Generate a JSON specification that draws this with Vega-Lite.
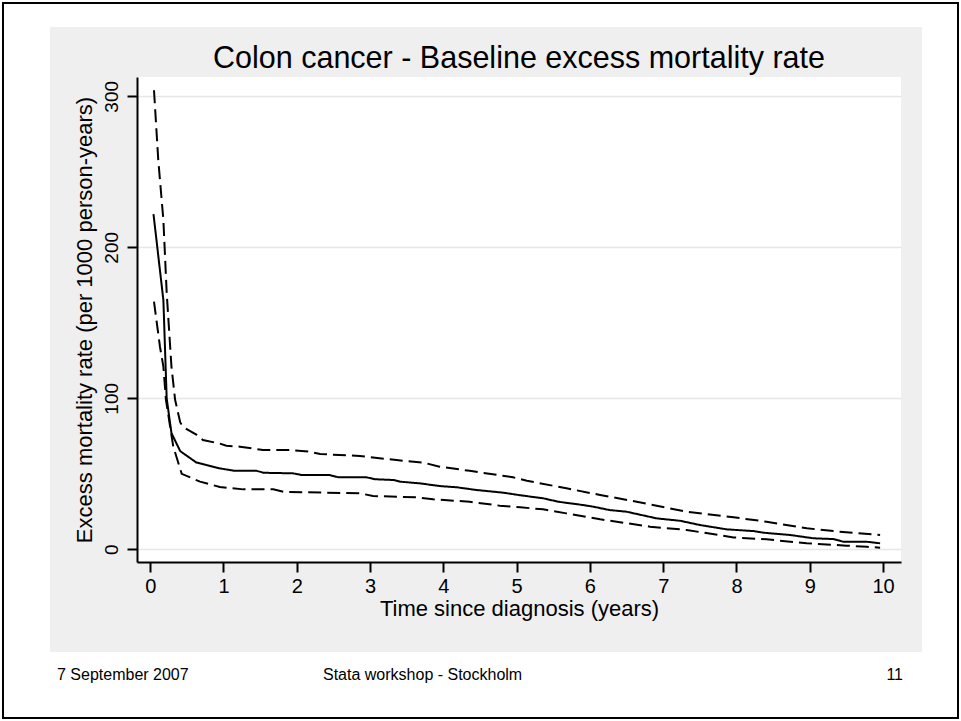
{
  "$schema": "https://vega.github.io/schema/vega-lite/v6.json",
  "width": 764,
  "height": 485,
  "autosize": {"type": "none"},
  "padding": {"left": 137, "top": 77, "right": 60, "bottom": 159},
  "background": "#EFEFEF",
  "config": {
    "view": {"fill": "white", "stroke": null},
    "font": "Liberation Sans",
    "axis": {
      "domainColor": "black",
      "domainWidth": 2,
      "tickColor": "black",
      "tickWidth": 2,
      "tickSize": 10,
      "labelColor": "black",
      "labelFont": "Liberation Sans",
      "titleFont": "Liberation Sans",
      "titleColor": "black",
      "titleFontWeight": "normal",
      "gridColor": "#E6E6E6",
      "gridWidth": 1.5
    }
  },
  "title": {
    "text": "Colon cancer - Baseline excess mortality rate",
    "font": "Liberation Sans",
    "fontSize": 30.5,
    "fontWeight": "normal",
    "color": "black",
    "anchor": "middle",
    "frame": "group",
    "baseline": "bottom",
    "offset": -177
  },
  "layer": [
    {
      "data": {"values": [{}]},
      "mark": {"type": "rect", "filled": false, "stroke": "white", "strokeWidth": 100, "strokeJoin": "miter"},
      "encoding": {"x": {"value": -137}, "x2": {"value": 835}, "y": {"value": -100}, "y2": {"value": 625}}
    },
    {
      "data": {"values": [{}]},
      "mark": {"type": "rect", "filled": false, "stroke": "black", "strokeWidth": 2},
      "encoding": {"x": {"value": -134}, "x2": {"value": 821}, "y": {"value": -74}, "y2": {"value": 641}}
    },
    {
      "data": {"values": [{}]},
      "mark": {"type": "text", "text": "7 September 2007", "fontSize": 16, "align": "left", "baseline": "alphabetic", "color": "black"},
      "encoding": {"x": {"value": -80}, "y": {"value": 603}}
    },
    {
      "data": {"values": [{}]},
      "mark": {"type": "text", "text": "Stata workshop - Stockholm", "fontSize": 16, "align": "left", "baseline": "alphabetic", "color": "black"},
      "encoding": {"x": {"value": 186}, "y": {"value": 603}}
    },
    {
      "data": {"values": [{}]},
      "mark": {"type": "text", "text": "11", "fontSize": 16, "align": "right", "baseline": "alphabetic", "color": "black"},
      "encoding": {"x": {"value": 766}, "y": {"value": 603}}
    },
    {
      "data": {
        "values": [
          {"s": "est", "t": 0.045, "v": 222},
          {"s": "est", "t": 0.18, "v": 165},
          {"s": "est", "t": 0.225, "v": 100},
          {"s": "est", "t": 0.29, "v": 77},
          {"s": "est", "t": 0.41, "v": 65},
          {"s": "est", "t": 0.63, "v": 57.5},
          {"s": "est", "t": 0.95, "v": 53.6},
          {"s": "est", "t": 1.15, "v": 52},
          {"s": "est", "t": 1.45, "v": 52},
          {"s": "est", "t": 1.55, "v": 50.7},
          {"s": "est", "t": 1.95, "v": 50.3},
          {"s": "est", "t": 2.07, "v": 49.2},
          {"s": "est", "t": 2.45, "v": 49.2},
          {"s": "est", "t": 2.57, "v": 47.7},
          {"s": "est", "t": 2.95, "v": 47.7},
          {"s": "est", "t": 3.07, "v": 46.4},
          {"s": "est", "t": 3.32, "v": 45.9},
          {"s": "est", "t": 3.41, "v": 44.8},
          {"s": "est", "t": 3.68, "v": 43.7},
          {"s": "est", "t": 3.95, "v": 41.9},
          {"s": "est", "t": 4.18, "v": 41.1},
          {"s": "est", "t": 4.45, "v": 39.3},
          {"s": "est", "t": 4.82, "v": 37.5},
          {"s": "est", "t": 5.05, "v": 35.8},
          {"s": "est", "t": 5.36, "v": 33.8},
          {"s": "est", "t": 5.57, "v": 31.5},
          {"s": "est", "t": 5.91, "v": 29.3},
          {"s": "est", "t": 6.05, "v": 28.2},
          {"s": "est", "t": 6.27, "v": 26},
          {"s": "est", "t": 6.5, "v": 24.9},
          {"s": "est", "t": 6.91, "v": 20.5},
          {"s": "est", "t": 7.23, "v": 18.9},
          {"s": "est", "t": 7.5, "v": 16.1},
          {"s": "est", "t": 7.87, "v": 13.2},
          {"s": "est", "t": 8.23, "v": 12.1},
          {"s": "est", "t": 8.37, "v": 11},
          {"s": "est", "t": 8.73, "v": 9.5},
          {"s": "est", "t": 9.05, "v": 7.3},
          {"s": "est", "t": 9.32, "v": 6.8},
          {"s": "est", "t": 9.46, "v": 5},
          {"s": "est", "t": 9.78, "v": 5},
          {"s": "est", "t": 9.96, "v": 4},
          {"s": "hi", "t": 0.052, "v": 304},
          {"s": "hi", "t": 0.11, "v": 258},
          {"s": "hi", "t": 0.18, "v": 218},
          {"s": "hi", "t": 0.225, "v": 170},
          {"s": "hi", "t": 0.29, "v": 121},
          {"s": "hi", "t": 0.34, "v": 99},
          {"s": "hi", "t": 0.41, "v": 84},
          {"s": "hi", "t": 0.45, "v": 81},
          {"s": "hi", "t": 0.63, "v": 76},
          {"s": "hi", "t": 0.72, "v": 72.4},
          {"s": "hi", "t": 0.95, "v": 70},
          {"s": "hi", "t": 1.04, "v": 68.6},
          {"s": "hi", "t": 1.225, "v": 68},
          {"s": "hi", "t": 1.54, "v": 65.8},
          {"s": "hi", "t": 1.91, "v": 65.8},
          {"s": "hi", "t": 2.18, "v": 64.6},
          {"s": "hi", "t": 2.32, "v": 63.1},
          {"s": "hi", "t": 2.86, "v": 61.8},
          {"s": "hi", "t": 3.36, "v": 59.1},
          {"s": "hi", "t": 3.73, "v": 57.4},
          {"s": "hi", "t": 3.95, "v": 54.7},
          {"s": "hi", "t": 4.36, "v": 52},
          {"s": "hi", "t": 4.95, "v": 47.7},
          {"s": "hi", "t": 5.14, "v": 45.4},
          {"s": "hi", "t": 5.68, "v": 40.4},
          {"s": "hi", "t": 6.14, "v": 36},
          {"s": "hi", "t": 6.64, "v": 31.5},
          {"s": "hi", "t": 7.32, "v": 24.9},
          {"s": "hi", "t": 7.96, "v": 21.2},
          {"s": "hi", "t": 8.41, "v": 18.3},
          {"s": "hi", "t": 8.96, "v": 13.9},
          {"s": "hi", "t": 9.41, "v": 11.7},
          {"s": "hi", "t": 9.96, "v": 9.5},
          {"s": "lo", "t": 0.052, "v": 164},
          {"s": "lo", "t": 0.134, "v": 134},
          {"s": "lo", "t": 0.18, "v": 121},
          {"s": "lo", "t": 0.215, "v": 99},
          {"s": "lo", "t": 0.315, "v": 68},
          {"s": "lo", "t": 0.43, "v": 50},
          {"s": "lo", "t": 0.68, "v": 44.8},
          {"s": "lo", "t": 0.95, "v": 41.3},
          {"s": "lo", "t": 1.27, "v": 39.7},
          {"s": "lo", "t": 1.68, "v": 39.7},
          {"s": "lo", "t": 1.82, "v": 38.1},
          {"s": "lo", "t": 2.86, "v": 37.1},
          {"s": "lo", "t": 3.04, "v": 35.3},
          {"s": "lo", "t": 3.64, "v": 34.4},
          {"s": "lo", "t": 3.86, "v": 33.1},
          {"s": "lo", "t": 4.36, "v": 31.5},
          {"s": "lo", "t": 4.77, "v": 28.9},
          {"s": "lo", "t": 5.05, "v": 27.8},
          {"s": "lo", "t": 5.36, "v": 26.5},
          {"s": "lo", "t": 5.68, "v": 23.8},
          {"s": "lo", "t": 6.14, "v": 19.9},
          {"s": "lo", "t": 6.82, "v": 15},
          {"s": "lo", "t": 7.32, "v": 12.8},
          {"s": "lo", "t": 7.96, "v": 7.9},
          {"s": "lo", "t": 8.41, "v": 6.6},
          {"s": "lo", "t": 8.96, "v": 4},
          {"s": "lo", "t": 9.5, "v": 2.4},
          {"s": "lo", "t": 9.78, "v": 1.7},
          {"s": "lo", "t": 9.96, "v": 1.1}
        ]
      },
      "mark": {"type": "line", "color": "black", "strokeWidth": 2},
      "encoding": {
        "x": {
          "field": "t",
          "type": "quantitative",
          "scale": {"domain": [-0.18, 10.245], "nice": false, "zero": false},
          "axis": {
            "values": [0, 1, 2, 3, 4, 5, 6, 7, 8, 9, 10],
            "title": "Time since diagnosis (years)",
            "grid": false,
            "labelFontSize": 20,
            "labelPadding": 4,
            "labelFlush": false,
            "titleFontSize": 22,
            "titlePadding": 2
          }
        },
        "y": {
          "field": "v",
          "type": "quantitative",
          "scale": {"domain": [-8.4, 312.8], "nice": false, "zero": false},
          "axis": {
            "values": [0, 100, 200, 300],
            "title": "Excess mortality rate (per 1000 person-years)",
            "grid": true,
            "labelAngle": -90,
            "labelAlign": "center",
            "labelBaseline": "bottom",
            "labelFontSize": 19,
            "labelPadding": 6,
            "titleFontSize": 22,
            "titlePadding": 6
          }
        },
        "strokeDash": {
          "field": "s",
          "type": "nominal",
          "scale": {"domain": ["est", "lo", "hi"], "range": [[1, 0], [13, 6], [13, 6]]},
          "legend": null
        }
      }
    }
  ]
}
